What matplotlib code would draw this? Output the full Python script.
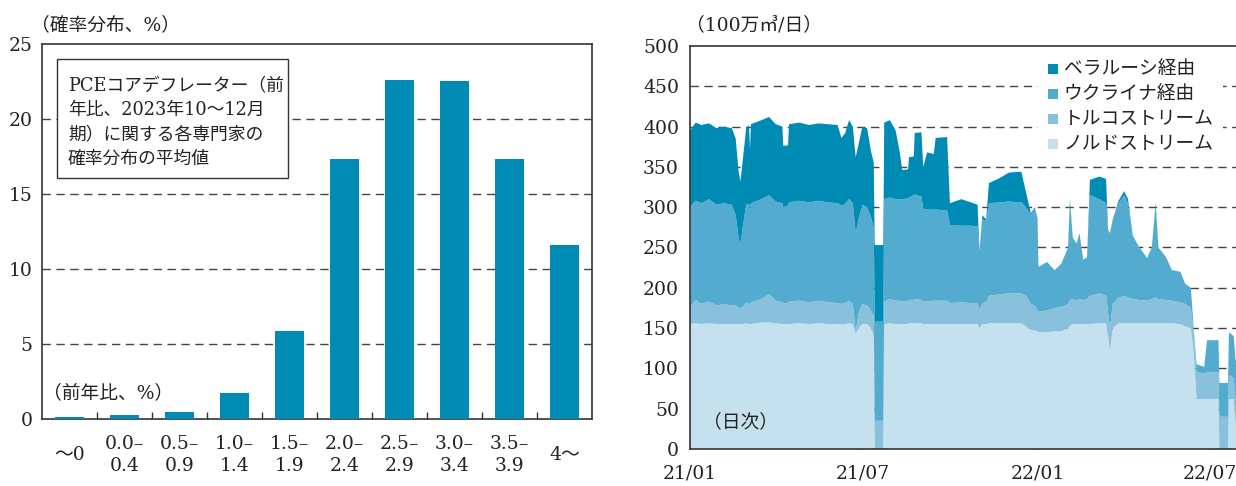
import matplotlib
matplotlib.use('Agg')
import matplotlib.pyplot as plt
from matplotlib.patches import Rectangle
import numpy as np
import pandas as pd

plt.rcParams['font.family'] = ['DejaVu Serif', 'Noto Sans CJK JP']
FS = 13.5
W, H = 1236, 486

# ---------------- left panel data ----------------
categories = ['～0', '0.0–\n0.4', '0.5–\n0.9', '1.0–\n1.4', '1.5–\n1.9',
              '2.0–\n2.4', '2.5–\n2.9', '3.0–\n3.4', '3.5–\n3.9', '4～']
probabilities = [0.15, 0.3, 0.5, 1.75, 5.85, 17.3, 22.6, 22.5, 17.35, 11.6]
left_yticks = [0, 5, 10, 15, 20, 25]

# ---------------- right panel data (100万㎥/日) ----------------
dates = ['2021-01-01', '2021-01-07', '2021-01-13', '2021-01-21', '2021-01-29',
         '2021-02-06', '2021-02-14', '2021-02-18', '2021-02-21', '2021-02-23',
         '2021-02-26', '2021-03-01', '2021-03-04', '2021-03-05', '2021-03-06',
         '2021-03-17', '2021-03-25', '2021-04-01', '2021-04-08', '2021-04-09',
         '2021-04-14', '2021-04-15', '2021-04-26', '2021-05-06', '2021-05-16',
         '2021-05-26', '2021-06-05', '2021-06-09', '2021-06-13', '2021-06-17',
         '2021-06-21', '2021-06-24', '2021-06-27', '2021-07-01', '2021-07-06',
         '2021-07-10', '2021-07-13', '2021-07-14', '2021-07-23', '2021-07-24',
         '2021-07-30', '2021-08-05', '2021-08-09', '2021-08-12', '2021-08-18',
         '2021-08-19', '2021-08-24', '2021-08-25', '2021-09-01', '2021-09-03',
         '2021-09-07', '2021-09-14', '2021-09-16', '2021-09-28', '2021-10-01',
         '2021-10-13', '2021-10-23', '2021-10-30', '2021-11-01', '2021-11-04',
         '2021-11-08', '2021-11-11', '2021-11-22', '2021-12-02', '2021-12-15',
         '2021-12-20', '2021-12-25', '2021-12-29', '2022-01-01', '2022-01-02',
         '2022-01-11', '2022-01-19', '2022-01-26', '2022-02-02', '2022-02-04',
         '2022-02-07', '2022-02-11', '2022-02-14', '2022-02-18', '2022-02-22',
         '2022-02-25', '2022-03-07', '2022-03-14', '2022-03-16', '2022-03-18',
         '2022-03-21', '2022-03-27', '2022-04-02', '2022-04-06', '2022-04-11',
         '2022-04-17', '2022-04-26', '2022-05-01', '2022-05-05', '2022-05-08',
         '2022-05-16', '2022-05-22', '2022-05-31', '2022-06-05', '2022-06-11',
         '2022-06-14', '2022-06-17', '2022-06-25', '2022-06-28', '2022-07-10',
         '2022-07-11', '2022-07-20', '2022-07-21', '2022-07-26', '2022-07-28',
         '2022-07-31']

nord_stream = [155, 156, 155, 156, 155,
               155, 155, 155, 155, 155,
               155, 156, 155, 155, 155,
               157, 157, 156, 155, 155,
               155, 155, 156, 155, 156,
               155, 155, 155, 155, 156,
               155, 143, 150, 155, 155,
               150, 140, 0, 0, 155,
               156, 155, 155, 155, 155,
               156, 156, 156, 156, 155,
               155, 155, 155, 155, 155,
               155, 155, 155, 150, 155,
               155, 156, 156, 156, 156,
               152, 148, 147, 146, 145,
               145, 146, 146, 150, 153,
               155, 155, 155, 155, 155,
               155, 156, 156, 140, 122,
               150, 156, 156, 156, 156,
               156, 156, 156, 156, 156,
               156, 156, 155, 152, 150,
               120, 62, 62, 62, 62,
               0, 0, 62, 62, 30,
               30]

turk_stream = [21, 29, 25, 27, 23,
               25, 23, 23, 20, 20,
               22, 26, 25, 25, 27,
               29, 35, 28, 27, 26,
               26, 28, 28, 27, 28,
               27, 26, 25, 26, 28,
               25, 3, 18, 25, 23,
               22, 25, 35, 35, 28,
               30, 29, 29, 28, 29,
               29, 29, 30, 29, 28,
               28, 29, 29, 29, 26,
               27, 26, 26, 22, 26,
               27, 34, 36, 37, 37,
               38, 32, 31, 26, 25,
               27, 29, 30, 30, 32,
               31, 29, 31, 30, 31,
               35, 37, 34, 30, 28,
               30, 32, 34, 32, 30,
               29, 28, 30, 32, 30,
               29, 28, 27, 28, 25,
               25, 33, 32, 33, 33,
               40, 40, 30, 26, 30,
               28]

ukraine = [124, 123, 125, 127, 125,
           125, 125, 112, 87, 80,
           103, 121, 124, 118, 123,
           124, 123, 123, 123, 119,
           121, 123, 124, 124, 124,
           124, 124, 122, 123, 126,
           125, 122, 117, 123, 122,
           116, 110, 123, 123, 127,
           126, 126, 126, 127, 127,
           127, 130, 130, 128, 115,
           114, 113, 113, 112, 97,
           95, 96, 95, 74, 104,
           101, 115, 114, 114, 113,
           110, 110, 120, 113, 56,
           60, 47, 54, 70, 120,
           76, 71, 82, 50, 52,
           125, 117, 115, 102, 118,
           105, 117, 125, 117, 79,
           67, 53, 64, 112, 64,
           53, 38, 38, 25, 25,
           5, 10, 8, 40, 40,
           42, 42, 53, 52, 50,
           50]

belarus = [95, 97, 97, 94, 95,
           95, 95, 95, 83, 77,
           85, 95, 98, 74, 98,
           98, 97, 96, 95, 76,
           75, 97, 97, 96, 96,
           97, 97, 84, 88, 98,
           95, 94, 93, 97, 98,
           82, 80, 95, 95, 95,
           96, 85, 60, 36, 36,
           50, 48, 76, 80, 52,
           71, 69, 89, 91, 27,
           33, 29, 27, 0, 5,
           2, 25, 30, 36, 38,
           18, 2, 2, 1, 0,
           0, 0, 0, 0, 5,
           0, 0, 0, 0, 0,
           19, 28, 30, 0, 0,
           0, 3, 5, 5, 0,
           0, 0, 0, 5, 0,
           0, 0, 0, 0, 0,
           0, 0, 0, 0, 0,
           0, 0, 0, 0, 0,
           0]

series_labels = ['ベラルーシ経由', 'ウクライナ経由', 'トルコストリーム', 'ノルドストリーム']
right_yticks = [0, 50, 100, 150, 200, 250, 300, 350, 400, 450, 500]
right_xtick_dates = ['2021-01-01', '2021-07-01', '2022-01-01', '2022-07-01']
right_xtick_labels = ['21/01', '21/07', '22/01', '22/07']

# ---------------- styles ----------------
C_BY = '#008bb5'
C_UA = '#53abd0'
C_TS = '#89c1dc'
C_NS = '#c5e1ed'
C_BAR = '#008bb5'
SPINE = '#333333'
GRID = '#444444'
TXT = '#222222'


def fx(px):
    return px / W


def fy(py):
    return 1 - py / H


fig = plt.figure(figsize=(W / 100, H / 100), dpi=100)

# ================= left panel =================
ax1 = fig.add_axes([fx(42), fy(419), (592 - 42) / W, (419 - 44) / H])
xpos = np.arange(len(categories))
ax1.bar(xpos, probabilities, width=0.52, color=C_BAR, zorder=3)
ax1.set_xlim(-0.5, len(categories) - 0.5)
ax1.set_ylim(0, 25)
ax1.set_yticks(left_yticks)
for v in left_yticks[1:-1]:
    ax1.axhline(v, color=GRID, lw=1.0, dashes=(6, 4), zorder=1)
ax1.set_xticks(xpos)
ax1.set_xticklabels(categories)
ax1.set_xticks(np.arange(0.5, len(categories) - 1, 1), minor=True)
ax1.tick_params(axis='x', which='major', length=0, pad=26, labelsize=FS,
                colors=TXT)
ax1.tick_params(axis='x', which='minor', direction='in', length=5, width=1,
                color=SPINE)
ax1.tick_params(axis='y', length=0, pad=7, labelsize=FS, colors=TXT)
for lab in ax1.get_xticklabels():
    lab.set_verticalalignment('center')
    lab.set_linespacing(1.25)
for s in ax1.spines.values():
    s.set_color(SPINE)
    s.set_linewidth(1.2)

# annotation box
box_x0, box_x1 = (57 - 42) / 550, (288 - 42) / 550
box_y0, box_y1 = (419 - 178) / 375, (419 - 59) / 375
ax1.add_patch(Rectangle((box_x0, box_y0), box_x1 - box_x0, box_y1 - box_y0,
                        transform=ax1.transAxes, facecolor='white',
                        edgecolor=SPINE, lw=1.0, zorder=4))
box_lines = ['PCEコアデフレーター（前', '年比、2023年10～12月',
             '期）に関する各専門家の', '確率分布の平均値']
for i, line in enumerate(box_lines):
    ax1.text((68 - 42) / 550, (419 - (85 + 24.5 * i)) / 375, line,
             transform=ax1.transAxes, fontsize=12.8, va='center', ha='left',
             color=TXT, zorder=5)

fig.text(fx(31), fy(25), '（確率分布、%）', fontsize=FS, va='center', ha='left',
         color=TXT)
ax1.text((43 - 42) / 550, (419 - 393) / 375, '（前年比、%）', transform=ax1.transAxes,
         fontsize=FS, va='center', ha='left', color=TXT, zorder=5)

# ================= right panel =================
ax2 = fig.add_axes([fx(690), fy(449), 1 - fx(690) + 0.002, (449 - 46) / H])
d = pd.to_datetime(dates)
ax2.stackplot(d, nord_stream, turk_stream, ukraine, belarus,
              colors=[C_NS, C_TS, C_UA, C_BY], lw=0, zorder=2)
start = pd.Timestamp('2021-01-01')
ax2.set_xlim(start, start + pd.Timedelta(days=576))
ax2.set_ylim(0, 500)
ax2.set_yticks(right_yticks)
for v in right_yticks[1:-1]:
    ax2.axhline(v, color=GRID, lw=1.0, dashes=(6, 4), zorder=1)
ax2.set_xticks(pd.to_datetime(right_xtick_dates))
ax2.set_xticklabels(right_xtick_labels)
ax2.tick_params(axis='x', direction='in', length=5, width=1, color=SPINE,
                pad=11, labelsize=FS, colors=TXT)
ax2.tick_params(axis='x', color=SPINE)
ax2.tick_params(axis='y', length=0, pad=8, labelsize=FS, colors=TXT)
for s in ax2.spines.values():
    s.set_color(SPINE)
    s.set_linewidth(1.2)
ax2.spines['right'].set_visible(False)

# legend (manual, white background)
aw, ah = 1236 - 690, 449 - 46
ax2.add_patch(Rectangle(((1036 - 690) / aw, (449 - 156) / ah),
                        (1221 - 1036) / aw, (156 - 55) / ah,
                        transform=ax2.transAxes, facecolor='white',
                        edgecolor='none', zorder=4))
legend_colors = [C_BY, C_UA, C_TS, C_NS]
for i, (lab, col) in enumerate(zip(series_labels, legend_colors)):
    cy = 69 + 25 * i
    ax2.add_patch(Rectangle(((1046 - 690) / aw, (449 - cy - 5) / ah),
                            10 / aw, 10 / ah, transform=ax2.transAxes,
                            facecolor=col, edgecolor='none', zorder=5))
    ax2.text((1062 - 690) / aw, (449 - cy) / ah, lab, transform=ax2.transAxes,
             fontsize=FS, va='center', ha='left', color=TXT, zorder=6)

fig.text(fx(686), fy(25), '（100万㎥/日）', fontsize=FS, va='center', ha='left',
         color=TXT)
ax2.text((703 - 690) / aw, (449 - 422) / ah, '（日次）', transform=ax2.transAxes,
         fontsize=FS, va='center', ha='left', color=TXT, zorder=6)

fig.savefig('out.png', dpi=100)
